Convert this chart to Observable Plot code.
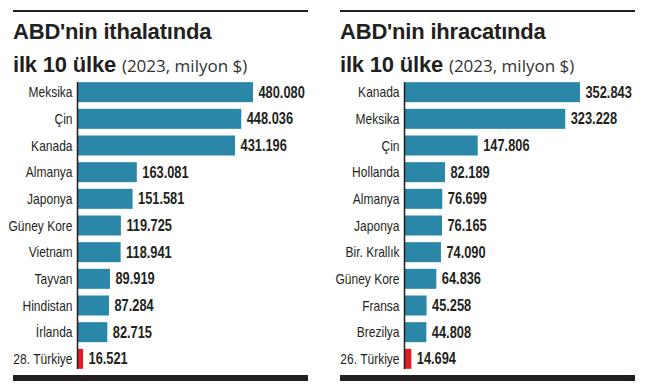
<!DOCTYPE html>
<html>
<head>
<meta charset="utf-8">
<script src="https://cdn.jsdelivr.net/npm/d3@7"></script>
<script src="https://cdn.jsdelivr.net/npm/@observablehq/plot@0.6"></script>
<style>
  html, body { margin: 0; padding: 0; background: #fff; }
  #wrap { position: relative; width: 645px; height: 388px; overflow: hidden; }
  .panel { position: absolute; top: 0; width: 295px; height: 388px; }
  .rule { position: absolute; left: 0; top: 10px; width: 295px; height: 1.5px; background: #231f20; }
  .title { position: absolute; left: 0; top: 15px; width: 300px; font-family: "Liberation Sans", Arial, sans-serif;
           font-weight: 700; font-size: 22px; line-height: 33px; color: #231f20; letter-spacing: -0.2px; white-space: nowrap; }
  .title .sub { font-family: "Open Sans", sans-serif; font-weight: 400; font-size: 17px; color: #333; letter-spacing: 0; }
  .chart { position: absolute; left: 0; top: 70px; }
  .bottom { position: absolute; left: 0; top: 375px; width: 295px; height: 6px; background: #231f20; }
</style>
</head>
<body>
<div id="wrap">
  <div class="panel" id="p1" style="left:13px">
    <div class="rule"></div>
    <div class="title">ABD'nin ithalatında<br>ilk 10 ülke <span class="sub">(2023, milyon $)</span></div>
    <div class="chart" id="c1"></div>
    <div class="bottom"></div>
  </div>
  <div class="panel" id="p2" style="left:340px">
    <div class="rule"></div>
    <div class="title">ABD'nin ihracatında<br>ilk 10 ülke <span class="sub">(2023, milyon $)</span></div>
    <div class="chart" id="c2"></div>
    <div class="bottom"></div>
  </div>
</div>
<script>
const importCountries = ["Meksika", "Çin", "Kanada", "Almanya", "Japonya", "Güney Kore", "Vietnam", "Tayvan", "Hindistan", "İrlanda", "28. Türkiye"];
const importValues = [480080, 448036, 431196, 163081, 151581, 119725, 118941, 89919, 87284, 82715, 16521];

const exportCountries = ["Kanada", "Meksika", "Çin", "Hollanda", "Almanya", "Japonya", "Bir. Krallık", "Güney Kore", "Fransa", "Brezilya", "26. Türkiye"];
const exportValues = [352843, 323228, 147806, 82189, 76699, 76165, 74090, 64836, 45258, 44808, 14694];

const highlight = ["28. Türkiye", "26. Türkiye"];

const trFormat = d3.formatLocale({decimal: ",", thousands: ".", grouping: [3], currency: ["", ""]}).format(",d");
const font = "'Liberation Sans', Arial, sans-serif";

// condense text horizontally (the original uses a condensed typeface)
function condense(svg, factor) {
  svg.querySelectorAll("text").forEach(t => {
    const tspans = t.querySelectorAll("tspan");
    const nodes = tspans.length ? tspans : [t];
    nodes.forEach(n => {
      const w = n.getComputedTextLength();
      if (w > 0) {
        n.setAttribute("textLength", (w * factor).toFixed(2));
        n.setAttribute("lengthAdjust", "spacingAndGlyphs");
      }
    });
  });
}

function draw(countries, values, target) {
  const data = countries.map((c, i) => ({country: c, value: values[i]}));
  const max = d3.max(values);
  const chart = Plot.plot({
    width: 295,
    height: 306,
    marginLeft: 64,
    marginRight: 55,
    marginTop: 5.5,
    marginBottom: 0.5,
    style: {fontFamily: font, color: "#231f20", background: "transparent", overflow: "visible"},
    x: {domain: [0, max], axis: null},
    y: {domain: countries, padding: 0.25, round: false, label: null},
    marks: [
      Plot.barX(data, {
        x: "value", y: "country",
        fill: d => highlight.includes(d.country) ? "#e31f26" : "#2a87a8"
      }),
      Plot.ruleX([0], {stroke: "#231f20", strokeWidth: 1.5, insetTop: 6.7, insetBottom: 6.6}),
      Plot.axisY({tickSize: 0, tickPadding: 5, fontSize: 15, label: null, fill: "#231f20"}),
      Plot.text(data, {
        x: "value", y: "country", text: d => trFormat(d.value),
        textAnchor: "start", dx: 5, fontSize: 16, fontWeight: "bold", fill: "#231f20"
      })
    ]
  });
  document.getElementById(target).appendChild(chart);
  condense(chart, 0.8);
  return chart;
}

draw(importCountries, importValues, "c1");
draw(exportCountries, exportValues, "c2");
</script>
</body>
</html>
